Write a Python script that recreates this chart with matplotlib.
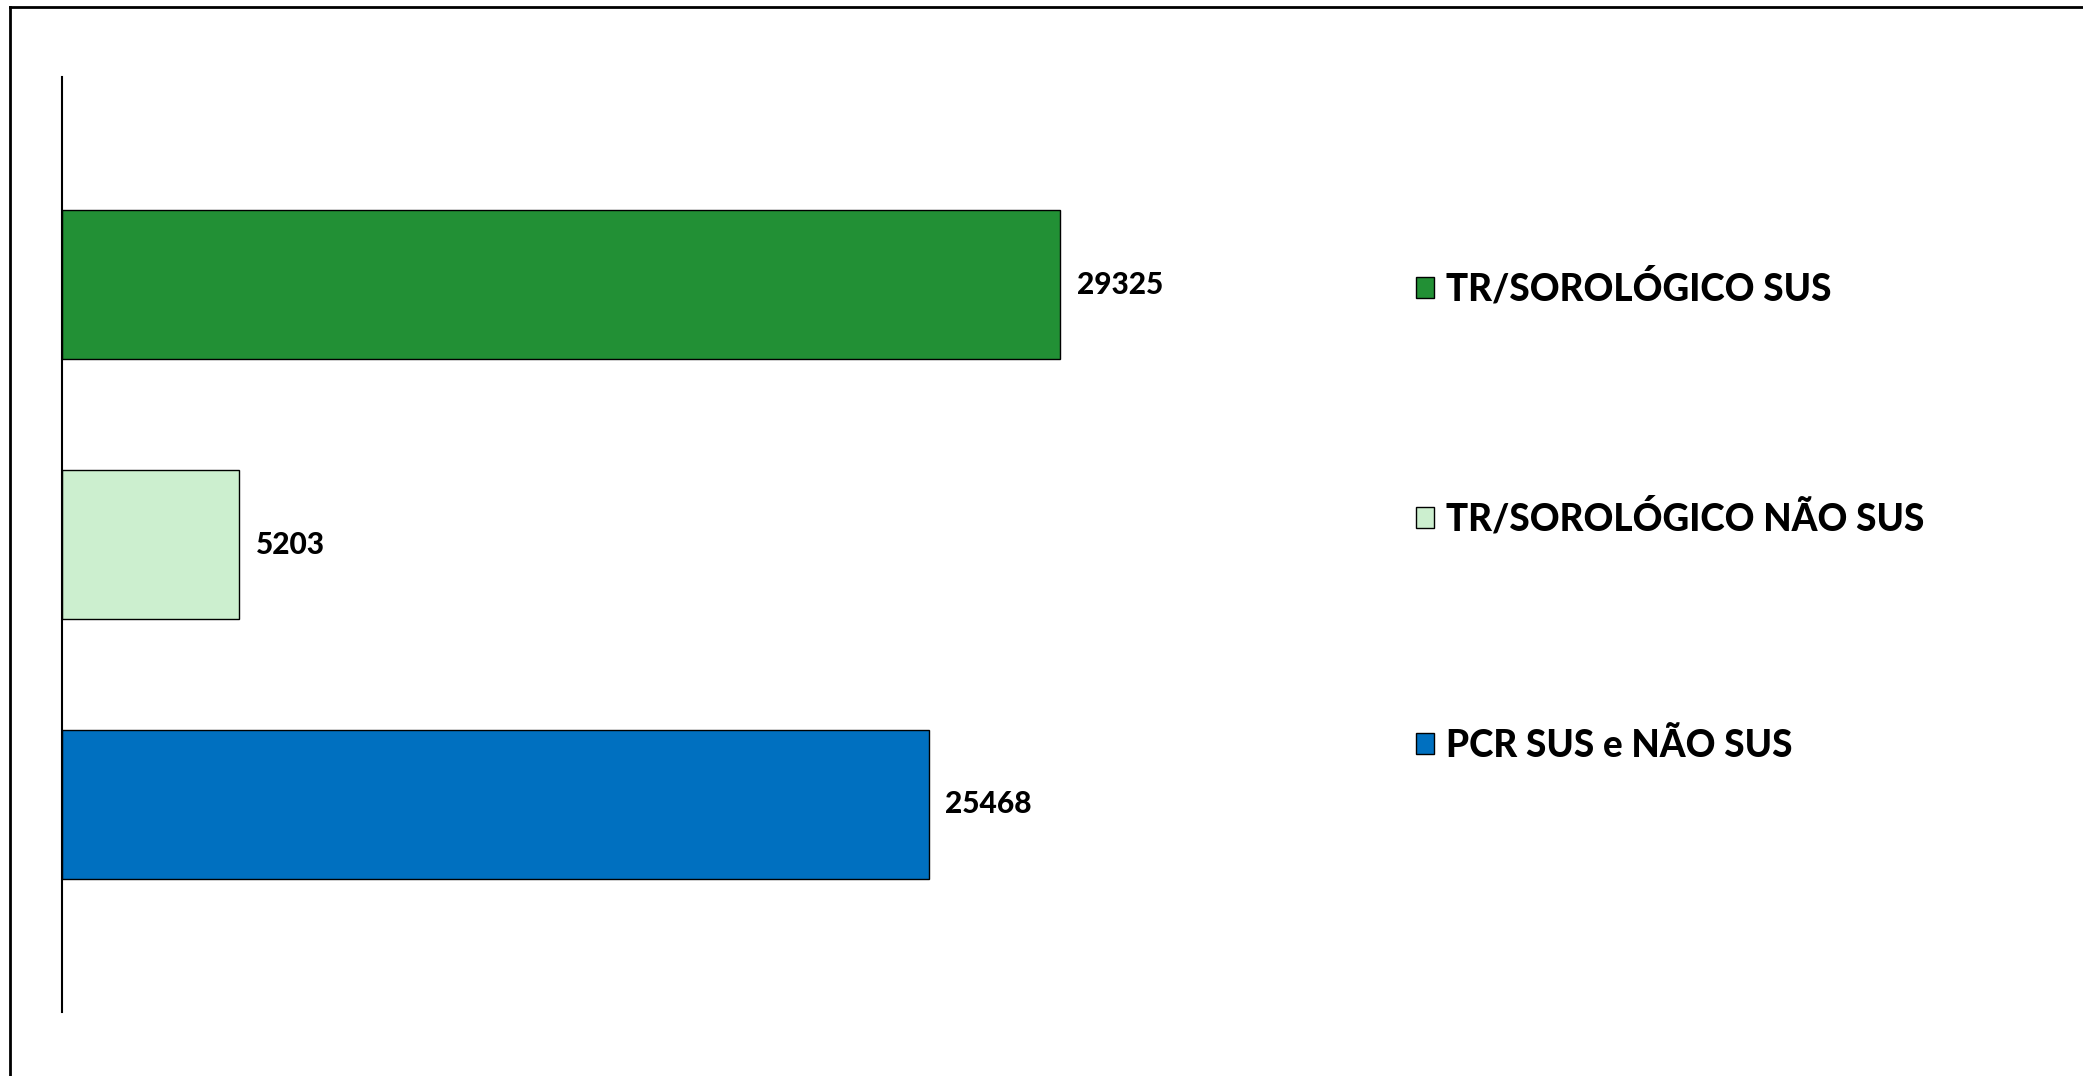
import matplotlib
matplotlib.use('Agg')
import matplotlib.pyplot as plt
from matplotlib.lines import Line2D

# Data (top to bottom as drawn)
categories = ['TR/SOROLÓGICO SUS', 'TR/SOROLÓGICO NÃO SUS', 'PCR SUS e NÃO SUS']
values = [29325, 5203, 25468]
colors = ['#229035', '#CCEFCF', '#0070C0']

W, H = 2083, 1076
plt.rcParams['font.family'] = ['Lato', 'DejaVu Sans']

fig = plt.figure(figsize=(W / 100, H / 100), dpi=100)
ax = fig.add_axes([62 / W, (H - 1012) / H, (1287 - 62) / W, (1012 - 77) / H])

ypos = [2, 1, 0]
for y, v, c, lab in zip(ypos, values, colors, categories):
    b = ax.barh(y, v, height=0.574, color=c, edgecolor='black', linewidth=1.0, label=lab)
    ax.bar_label(b, labels=[str(v)], padding=12, fontsize=21.5, weight='black')

ax.set_xlim(0, 36000)
ax.set_ylim(-0.8, 2.8)
for s in ['top', 'right', 'bottom']:
    ax.spines[s].set_visible(False)
ax.spines['left'].set_linewidth(1.5)
ax.set_xticks([])
ax.set_yticks([])

# Legend on the right
leg = ax.legend(loc='upper left', bbox_to_anchor=(1416 / W, (H - 268) / H),
                bbox_transform=fig.transFigure, frameon=False,
                prop={'weight': 'black', 'size': 26.6},
                handlelength=0.5, handleheight=0.5, handletextpad=0.3,
                labelspacing=5.18, borderpad=0, borderaxespad=0)

# Chart area border (top and left only are visible)
fig.add_artist(Line2D([10 / W, 1.0], [(H - 7) / H, (H - 7) / H], color='black', linewidth=2))
fig.add_artist(Line2D([10 / W, 10 / W], [0.0, (H - 7) / H], color='black', linewidth=2))

fig.savefig('out.png', dpi=100)
